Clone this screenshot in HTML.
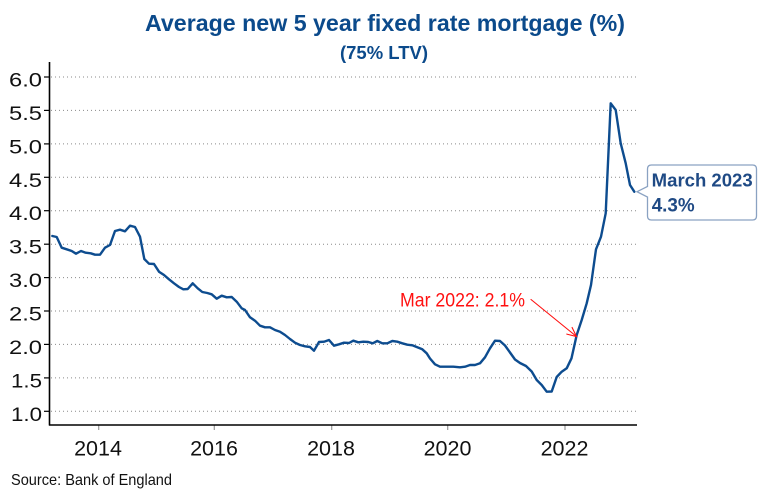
<!DOCTYPE html>
<html>
<head>
<meta charset="utf-8">
<style>
html,body{margin:0;padding:0;background:#fff;}
svg{display:block;}
</style>
</head>
<body>
<svg width="765" height="500" viewBox="0 0 765 500" xmlns="http://www.w3.org/2000/svg">
<rect width="765" height="500" fill="#fff"/>
<!-- Title -->
<text x="145" y="31" font-family="Liberation Sans, sans-serif" font-weight="bold" font-size="23.5" fill="#0B4A8B" textLength="480" lengthAdjust="spacingAndGlyphs">Average new 5 year fixed rate mortgage (%)</text>
<text x="340" y="59" font-family="Liberation Sans, sans-serif" font-weight="bold" font-size="18" fill="#0B4A8B" textLength="88" lengthAdjust="spacingAndGlyphs">(75% LTV)</text>

<!-- Gridlines -->
<g stroke="#8a8a8a" stroke-width="1" stroke-dasharray="1 3">
<line x1="51" y1="77" x2="637" y2="77"/>
<line x1="51" y1="110.4" x2="637" y2="110.4"/>
<line x1="51" y1="143.9" x2="637" y2="143.9"/>
<line x1="51" y1="177.3" x2="637" y2="177.3"/>
<line x1="51" y1="210.7" x2="637" y2="210.7"/>
<line x1="51" y1="244.2" x2="637" y2="244.2"/>
<line x1="51" y1="277.6" x2="637" y2="277.6"/>
<line x1="51" y1="311" x2="637" y2="311"/>
<line x1="51" y1="344.4" x2="637" y2="344.4"/>
<line x1="51" y1="377.9" x2="637" y2="377.9"/>
<line x1="51" y1="411.3" x2="637" y2="411.3"/>
</g>

<!-- Y axis ticks -->
<g stroke="#000" stroke-width="1.2">
<line x1="44" y1="77" x2="49.5" y2="77"/>
<line x1="44" y1="110.4" x2="49.5" y2="110.4"/>
<line x1="44" y1="143.9" x2="49.5" y2="143.9"/>
<line x1="44" y1="177.3" x2="49.5" y2="177.3"/>
<line x1="44" y1="210.7" x2="49.5" y2="210.7"/>
<line x1="44" y1="244.2" x2="49.5" y2="244.2"/>
<line x1="44" y1="277.6" x2="49.5" y2="277.6"/>
<line x1="44" y1="311" x2="49.5" y2="311"/>
<line x1="44" y1="344.4" x2="49.5" y2="344.4"/>
<line x1="44" y1="377.9" x2="49.5" y2="377.9"/>
<line x1="44" y1="411.3" x2="49.5" y2="411.3"/>
</g>

<!-- X axis ticks -->
<g stroke="#999" stroke-width="1.2">
<line x1="98.7" y1="425" x2="98.7" y2="430"/>
<line x1="214.3" y1="425" x2="214.3" y2="430"/>
<line x1="331.7" y1="425" x2="331.7" y2="430"/>
<line x1="447.7" y1="425" x2="447.7" y2="430"/>
<line x1="565" y1="425" x2="565" y2="430"/>
</g>

<!-- Axes -->
<line x1="49.5" y1="62" x2="49.5" y2="425.5" stroke="#000" stroke-width="1.6"/>
<line x1="49" y1="425" x2="637" y2="425" stroke="#000" stroke-width="1.6"/>

<!-- Y labels -->
<g font-family="Liberation Sans, sans-serif" font-size="19" fill="#111">
<text x="9" y="86.5" textLength="33" lengthAdjust="spacingAndGlyphs">6.0</text>
<text x="9" y="119.9" textLength="33" lengthAdjust="spacingAndGlyphs">5.5</text>
<text x="9" y="153.4" textLength="33" lengthAdjust="spacingAndGlyphs">5.0</text>
<text x="9" y="186.8" textLength="33" lengthAdjust="spacingAndGlyphs">4.5</text>
<text x="9" y="220.2" textLength="33" lengthAdjust="spacingAndGlyphs">4.0</text>
<text x="9" y="253.7" textLength="33" lengthAdjust="spacingAndGlyphs">3.5</text>
<text x="9" y="287.1" textLength="33" lengthAdjust="spacingAndGlyphs">3.0</text>
<text x="9" y="320.5" textLength="33" lengthAdjust="spacingAndGlyphs">2.5</text>
<text x="9" y="353.9" textLength="33" lengthAdjust="spacingAndGlyphs">2.0</text>
<text x="11" y="387.4" textLength="31" lengthAdjust="spacingAndGlyphs">1.5</text>
<text x="11" y="420.8" textLength="31" lengthAdjust="spacingAndGlyphs">1.0</text>
</g>

<!-- X labels -->
<g font-family="Liberation Sans, sans-serif" font-size="21.5" fill="#111" text-anchor="middle">
<text x="98" y="455.7">2014</text>
<text x="214" y="455.7">2016</text>
<text x="331" y="455.7">2018</text>
<text x="447.5" y="455.7">2020</text>
<text x="564.5" y="455.7">2022</text>
</g>

<!-- Series -->
<polyline fill="none" stroke="#0D4C8F" stroke-width="2.4" stroke-linejoin="round" stroke-linecap="round" points="
52.3,236 56.7,237 61.7,247.7 66.7,249.3 71.7,251 76,253.7 81,251 85.7,252.7 90.7,253.3 95,254.7 100,254.7
105,247.7 110,245 115,231 120,229.7 125,231.3 130,225.7 135,227 140,236.7 144.3,259 149,263.7 154,264
159,271.7 164,275 169,279.3 174,283.3 179,287 183.3,289.3 187.7,289 192.7,283.3 197.7,288.3 202.3,292
207.3,293 211.7,294.3 216.7,298.7 221.7,295.7 226.7,297.3 231.7,297 236.7,301.7 241.7,308.3 245,310
250,317.3 255,320.7 260,325.7 265,327.3 270,327.3 275,330 280,331.7 285,335 290,339 295,342.7 300,345
305,346.3 310,347 314,350.7 319,342 324,341.7 329,340 334,345.7 339,344.3 344,342.7 349,343 353.3,340.7
358.3,342.3 363.3,341.7 368.3,342 372.7,343.3 377.3,341 382.3,343.3 387.3,343.3 392.3,341 397.3,341.7
402.3,343.3 407.3,344.7 412.3,345.3 417.3,347.3 422.3,349.3 426.7,353.3 430,358.5 435,364.3 440,366.7
446.7,366.7 453.3,366.7 460,367.3 465,366.7 470,365 475,365 480,363.3 485,357.3 490,348.3 495,340.7
500,341 505,345.5 510,352.5 515,359.5 520,363 526,366 531.7,371.5 536.7,380 541.7,385 546.7,391.7
551.7,391.5 556.7,377 561.7,371.7 566.7,368.3 571.5,358.3 576.7,335 581.7,320 586.7,303.3 591,285
596,249.3 601,236.7 605.7,213.3 610.7,103.3 615.7,110 620.7,143.3 625.7,163.3 630,185 634.3,191.7"/>

<!-- Red annotation -->
<text x="400" y="306.7" font-family="Liberation Sans, sans-serif" font-size="19" fill="#FF1010" textLength="125" lengthAdjust="spacingAndGlyphs">Mar 2022: 2.1%</text>
<g stroke="#FF1010" stroke-width="1.1" fill="none" stroke-linecap="round">
<line x1="531" y1="299.5" x2="576.5" y2="336.5"/>
<polyline points="572.1,327.5 576.5,336.5 566.8,334.1"/>
</g>

<!-- Callout -->
<path d="M651.5,165 H752.5 Q756.5,165 756.5,169 V216 Q756.5,220 752.5,220 H651.5 Q647.5,220 647.5,216 V197 L637,191.7 L647.5,186.5 V169 Q647.5,165 651.5,165 Z" fill="#fff" stroke="#8AA2C2" stroke-width="1.3"/>
<text x="651.7" y="186.5" font-family="Liberation Sans, sans-serif" font-weight="bold" font-size="18.5" fill="#1F4A85" textLength="101" lengthAdjust="spacingAndGlyphs">March 2023</text>
<text x="651.7" y="211.5" font-family="Liberation Sans, sans-serif" font-weight="bold" font-size="19" fill="#1F4A85" textLength="43" lengthAdjust="spacingAndGlyphs">4.3%</text>

<!-- Source -->
<text x="11" y="485" font-family="Liberation Sans, sans-serif" font-size="16" fill="#111" textLength="161" lengthAdjust="spacingAndGlyphs">Source: Bank of England</text>
</svg>
</body>
</html>
